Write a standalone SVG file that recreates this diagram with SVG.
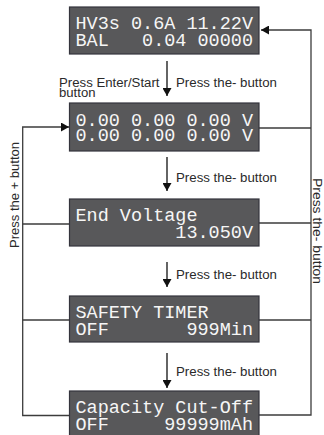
<svg xmlns="http://www.w3.org/2000/svg" width="324" height="435" viewBox="0 0 324 435">
<style>
.lcd{fill:#58585a;stroke:#34343c;stroke-width:1.2}
.lt{font-family:"Liberation Mono","DejaVu Sans Mono",monospace;font-size:19px;fill:#f6f6f6}
.lbl{font-family:"Liberation Sans",Arial,sans-serif;font-size:12px;fill:#2a2a2a}
.con{fill:none;stroke:#3c3c3c;stroke-width:1.3}
.dn{fill:none;stroke:#111;stroke-width:1.3}
</style>
<defs>
<marker id="ah" markerUnits="userSpaceOnUse" markerWidth="9" markerHeight="9" refX="8" refY="4.5" orient="auto" viewBox="0 0 9 9">
<path d="M0,0 L8,4.5 L0,9 z" fill="#111"/>
</marker>
</defs>
<rect width="324" height="435" fill="#fff"/>
<g id="connectors">
<line class="dn" x1="167" y1="61" x2="167" y2="96" marker-end="url(#ah)"/>
<line class="dn" x1="167" y1="157" x2="167" y2="191" marker-end="url(#ah)"/>
<line class="dn" x1="167" y1="262" x2="167" y2="287" marker-end="url(#ah)"/>
<line class="dn" x1="167" y1="353" x2="167" y2="388" marker-end="url(#ah)"/>
<path class="con" d="M259,415 H311 V30 H261" marker-end="url(#ah)"/>
<path class="con" d="M259,128 H311 M259,223 H311 M259,320 H311"/>
<path class="con" d="M69.5,415.5 H22.7 V127 H69" marker-end="url(#ah)"/>
<path class="con" d="M22.7,224 H69.5 M22.7,320 H69.5"/>
<text class="lbl" x="59" y="87" textLength="100.5" lengthAdjust="spacingAndGlyphs">Press Enter/Start</text>
<text class="lbl" x="59" y="97" textLength="36.5" lengthAdjust="spacingAndGlyphs">button</text>
<text class="lbl" x="176" y="87" textLength="101" lengthAdjust="spacingAndGlyphs">Press the- button</text>
<text class="lbl" x="176" y="182" textLength="101" lengthAdjust="spacingAndGlyphs">Press the- button</text>
<text class="lbl" x="176" y="279" textLength="101" lengthAdjust="spacingAndGlyphs">Press the- button</text>
<text class="lbl" x="176" y="376" textLength="101" lengthAdjust="spacingAndGlyphs">Press the- button</text>
<text class="lbl" transform="translate(19,248) rotate(-90)" textLength="106" lengthAdjust="spacingAndGlyphs">Press the + button</text>
<text class="lbl" transform="translate(313,178) rotate(90)" textLength="106" lengthAdjust="spacingAndGlyphs">Press the- button</text>
</g>
<g id="n1"><rect class="lcd" x="69.5" y="7" width="189.5" height="47"/>
<text class="lt" xml:space="preserve" x="75.5" y="28.5" textLength="177.5" lengthAdjust="spacingAndGlyphs">HV3s 0.6A 11.22V</text>
<text class="lt" xml:space="preserve" x="75.5" y="45.5" textLength="177.5" lengthAdjust="spacingAndGlyphs">BAL   0.04 00000</text></g>
<g id="n2"><rect class="lcd" x="69.5" y="103" width="189.5" height="48"/>
<text class="lt" xml:space="preserve" x="75.5" y="125.5" textLength="177.5" lengthAdjust="spacingAndGlyphs">0.00 0.00 0.00 V</text>
<text class="lt" xml:space="preserve" x="75.5" y="141" textLength="177.5" lengthAdjust="spacingAndGlyphs">0.00 0.00 0.00 V</text></g>
<g id="n3"><rect class="lcd" x="69.5" y="199" width="189.5" height="47"/>
<text class="lt" xml:space="preserve" x="75.5" y="221" textLength="177.5" lengthAdjust="spacingAndGlyphs">End Voltage     </text>
<text class="lt" xml:space="preserve" x="75.5" y="237.5" textLength="177.5" lengthAdjust="spacingAndGlyphs">         13.050V</text></g>
<g id="n4"><rect class="lcd" x="69.5" y="296" width="189.5" height="46"/>
<text class="lt" xml:space="preserve" x="75.5" y="318" textLength="177.5" lengthAdjust="spacingAndGlyphs">SAFETY TIMER    </text>
<text class="lt" xml:space="preserve" x="75.5" y="334.5" textLength="177.5" lengthAdjust="spacingAndGlyphs">OFF       999Min</text></g>
<g id="n5"><rect class="lcd" x="69.5" y="391" width="189.5" height="47"/>
<text class="lt" xml:space="preserve" x="75.5" y="413" textLength="177.5" lengthAdjust="spacingAndGlyphs">Capacity Cut-Off</text>
<text class="lt" xml:space="preserve" x="75.5" y="429.5" textLength="177.5" lengthAdjust="spacingAndGlyphs">OFF     99999mAh</text></g>
</svg>
